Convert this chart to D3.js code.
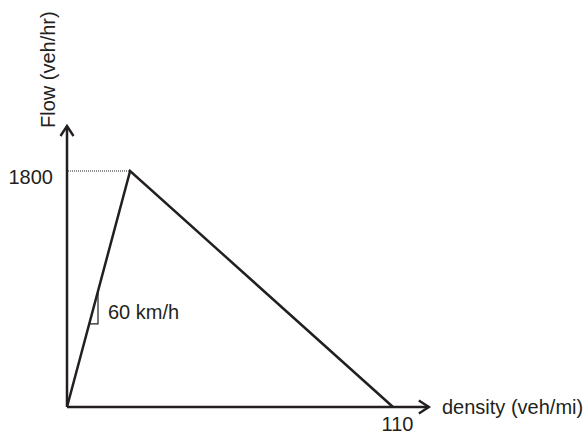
<!DOCTYPE html>
<html>
<head>
<meta charset="utf-8">
<script src="https://cdn.jsdelivr.net/npm/d3@7"></script>
<style>
  body { margin: 0; background: #fff; }
  text { font-family: "Liberation Sans", Arial, sans-serif; fill: #231f20; }
</style>
</head>
<body>
<script>
// triangular flow-density diagram
const density = [0, 21.3, 110];
const flow = [0, 1800, 0];
const xTicks = [110];
const yTicks = [1800];
const slopeDensity = [7.5, 10.46];   // little slope triangle legs
const slopeLabel = "60 km/h";
const xTitle = "density (veh/mi)";
const yTitle = "Flow (veh/hr)";
const xMax = 122.1, yMax = 2143;

const width = 587, height = 434;
const ink = "#231f20";

var x = d3.scaleLinear().domain([0, 110]).range([67, 393]);
var y = d3.scaleLinear().domain([0, 1800]).range([407, 171]);

var svg = d3.select("body").append("svg")
  .attr("width", width)
  .attr("height", height);

svg.append("defs").append("marker")
  .attr("id", "arrow")
  .attr("markerUnits", "userSpaceOnUse")
  .attr("markerWidth", 24).attr("markerHeight", 24)
  .attr("viewBox", "-12 -12 24 24")
  .attr("refX", 0).attr("refY", 0)
  .attr("orient", "auto")
  .append("path")
  .attr("d", "M-10,-6.5L0,0L-10,6.5")
  .attr("fill", "none")
  .attr("stroke", ink)
  .attr("stroke-width", 2.4);

// axes lines with arrows
svg.append("line")
  .attr("x1", x(0)).attr("y1", y(0))
  .attr("x2", x(xMax)).attr("y2", y(0))
  .attr("stroke", ink).attr("stroke-width", 2.5)
  .attr("marker-end", "url(#arrow)");
svg.append("line")
  .attr("x1", x(0)).attr("y1", y(0))
  .attr("x2", x(0)).attr("y2", y(yMax))
  .attr("stroke", ink).attr("stroke-width", 2.5)
  .attr("marker-end", "url(#arrow)");

// tick labels
var xAxis = svg.append("g")
  .attr("transform", "translate(0," + y(0) + ")")
  .call(d3.axisBottom(x).tickValues(xTicks).tickFormat(d3.format("d")).tickSize(0).tickPadding(10));
xAxis.select(".domain").remove();
xAxis.selectAll("text")
  .attr("font-size", 20)
  .attr("font-family", null)
  .attr("fill", ink)
  .attr("dx", 4);

var yAxis = svg.append("g")
  .attr("transform", "translate(" + x(0) + ",0)")
  .call(d3.axisLeft(y).tickValues(yTicks).tickFormat(d3.format("d")).tickSize(0).tickPadding(14));
yAxis.select(".domain").remove();
yAxis.selectAll("text")
  .attr("font-size", 20)
  .attr("font-family", null)
  .attr("fill", ink)
  .attr("dy", "0.6em");

// dotted guide to capacity
svg.append("line")
  .attr("x1", x(0) + 1).attr("y1", y(1800))
  .attr("x2", x(density[1])).attr("y2", y(1800))
  .attr("stroke", ink).attr("stroke-width", 1)
  .attr("stroke-dasharray", "1,1");

// the triangle
var line = d3.line().x(d => x(d[0])).y(d => y(d[1]));
svg.append("path")
  .datum(d3.zip(density, flow))
  .attr("d", line)
  .attr("fill", "none")
  .attr("stroke", ink)
  .attr("stroke-width", 2.5)
  .attr("stroke-linejoin", "miter");

// slope marker
var wave = flow[1] / density[1];
var a = slopeDensity[0], b = slopeDensity[1];
svg.append("path")
  .datum([[a, wave * a], [b, wave * a], [b, wave * b]])
  .attr("d", line)
  .attr("fill", "none")
  .attr("stroke", ink)
  .attr("stroke-width", 1.2);

svg.append("text")
  .attr("x", x(b) + 10)
  .attr("y", 319)
  .attr("font-size", 20)
  .text(slopeLabel);

// titles
svg.append("text")
  .attr("x", 442)
  .attr("y", 414)
  .attr("font-size", 20)
  .text(xTitle);

svg.append("text")
  .attr("transform", "translate(55,128) rotate(-90)")
  .attr("font-size", 20)
  .text(yTitle);
</script>
</body>
</html>
